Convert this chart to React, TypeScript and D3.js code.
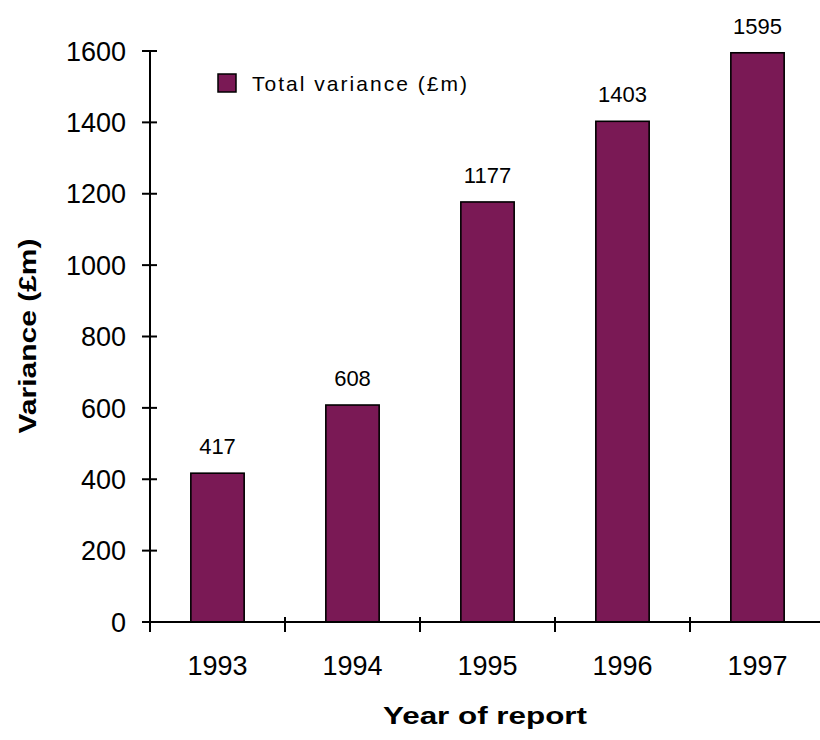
import React from "react";
import * as d3 from "d3";

const years = ["1993", "1994", "1995", "1996", "1997"];
const variance = [417, 608, 1177, 1403, 1595];
const yTicks = [0, 200, 400, 600, 800, 1000, 1200, 1400, 1600];
const seriesName = "Total variance (£m)";
const yTitle = "Variance (£m)";
const xTitle = "Year of report";

const W = 820;
const H = 740;
const BAR = "#7a1955";
const FONT = "'Liberation Sans', Arial, sans-serif";

export default function App() {
  const x = d3.scaleBand<string>().domain(years).range([150, 825]).padding(0);
  const y = d3.scaleLinear().domain([0, 1600]).range([622, 51]);
  const bw = x.bandwidth() * 0.395;
  const bounds = years.map((d) => x(d) as number).concat([825]);

  return (
    <svg
      width={W}
      height={H}
      style={{ position: "absolute", left: 0, top: 0, background: "#fff" }}
      fontFamily={FONT}
    >
      <rect x={0} y={0} width={W} height={H} fill="#fff" />
      {/* bars */}
      {years.map((yr, i) => {
        const cx = (x(yr) as number) + x.bandwidth() / 2;
        return (
          <g key={yr}>
            <rect
              x={cx - bw / 2}
              y={y(variance[i])}
              width={bw}
              height={y(0) - y(variance[i])}
              fill={BAR}
              stroke="#000"
              strokeWidth={1.6}
            />
            <text
              x={cx}
              y={y(variance[i]) - 19}
              textAnchor="middle"
              fontSize={22}
              fill="#000"
            >
              {variance[i]}
            </text>
            <text x={cx} y={675} textAnchor="middle" fontSize={27} fill="#000">
              {yr}
            </text>
          </g>
        );
      })}
      {/* y axis */}
      <line x1={150} x2={150} y1={y(1600)} y2={y(0)} stroke="#000" strokeWidth={2} />
      {yTicks.map((t) => (
        <g key={t}>
          <line x1={142} x2={157} y1={y(t)} y2={y(t)} stroke="#000" strokeWidth={2} />
          <text
            x={126}
            y={y(t)}
            dy="0.36em"
            textAnchor="end"
            fontSize={27}
            fill="#000"
          >
            {t}
          </text>
        </g>
      ))}
      {/* x axis */}
      <line x1={150} x2={W} y1={y(0)} y2={y(0)} stroke="#000" strokeWidth={2} />
      {bounds.map((b, i) => (
        <line key={i} x1={b} x2={b} y1={617} y2={632} stroke="#000" strokeWidth={2} />
      ))}
      {/* legend */}
      <rect x={218} y={74} width={18} height={18} fill={BAR} stroke="#000" strokeWidth={1.5} />
      <text
        x={252}
        y={91}
        fontSize={21}
        fill="#000"
        textLength={215}
        lengthAdjust="spacing"
      >
        {seriesName}
      </text>
      {/* axis titles */}
      <text
        transform={`translate(36,336) rotate(-90)`}
        textAnchor="middle"
        fontSize={24}
        fontWeight="bold"
        fill="#000"
        textLength={195}
        lengthAdjust="spacingAndGlyphs"
      >
        {yTitle}
      </text>
      <text
        x={485}
        y={724}
        textAnchor="middle"
        fontSize={24}
        fontWeight="bold"
        fill="#000"
        textLength={204}
        lengthAdjust="spacingAndGlyphs"
      >
        {xTitle}
      </text>
    </svg>
  );
}
